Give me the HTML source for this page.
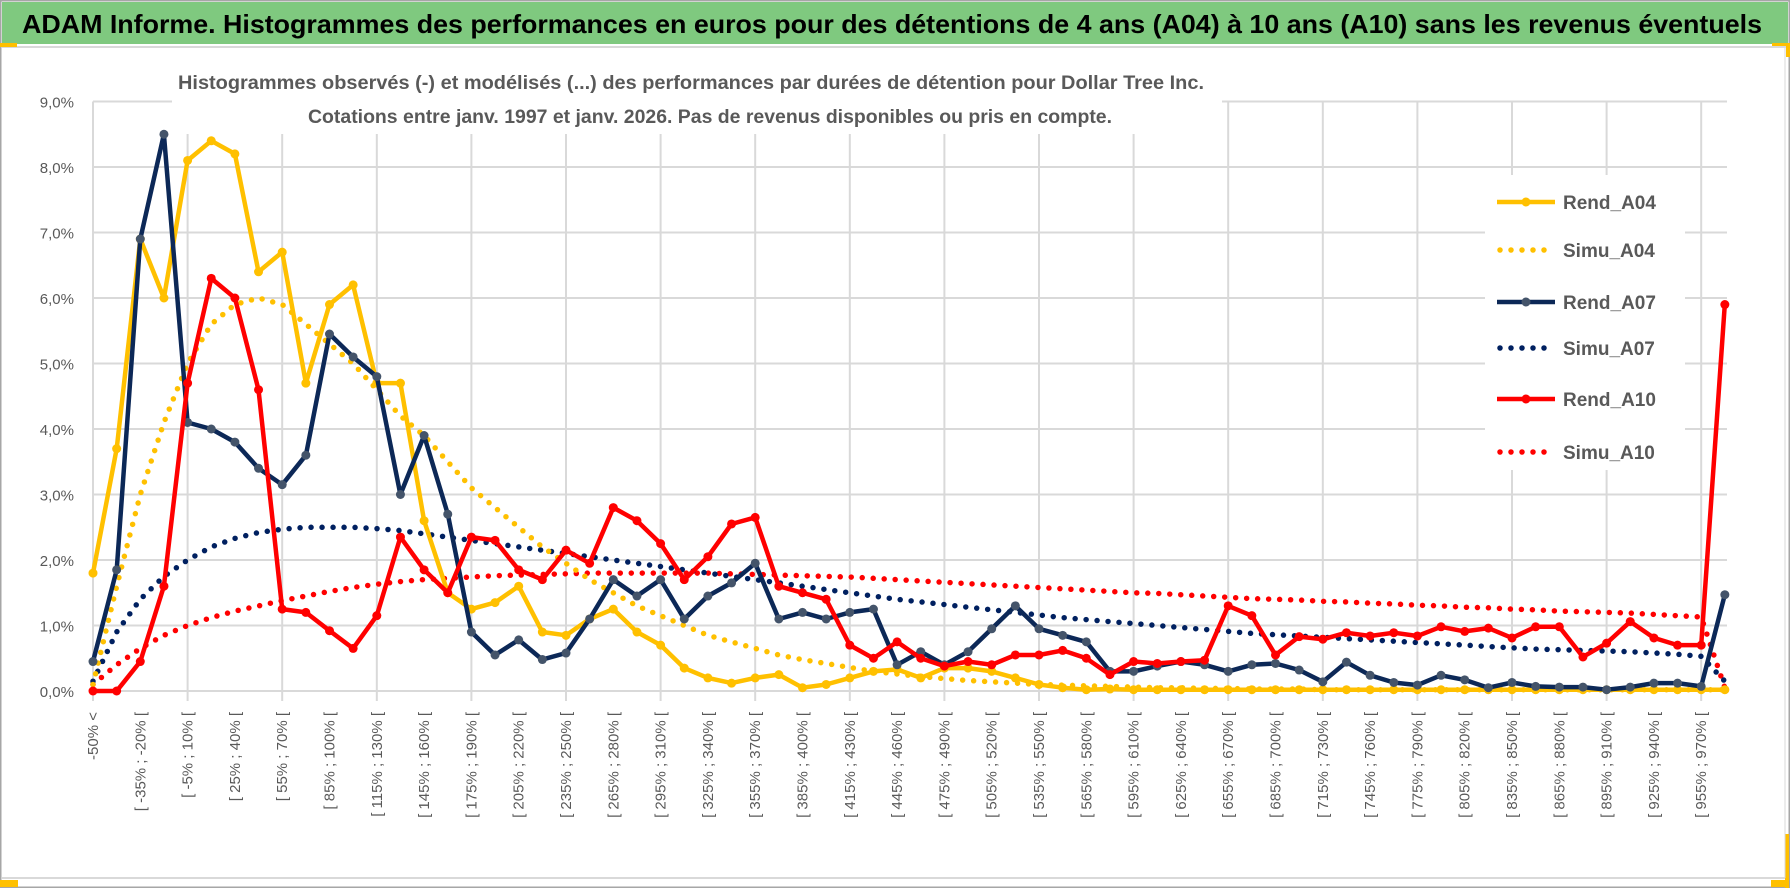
<!DOCTYPE html>
<html><head><meta charset="utf-8">
<style>
html,body{margin:0;padding:0;background:#fff;}
body{width:1790px;height:888px;overflow:hidden;position:relative;font-family:"Liberation Sans",sans-serif;}
svg{position:absolute;left:0;top:0;}
</style></head>
<body>
<svg id="chart" width="1790" height="888" viewBox="0 0 1790 888" xmlns="http://www.w3.org/2000/svg">
  <rect x="0.5" y="0.5" width="1789" height="887" fill="#fff" stroke="#a6a6a6" stroke-width="2"/>
  <rect x="2" y="2" width="1786" height="42" fill="#7fc97f"/>
  <text x="22" y="33" font-size="26" font-weight="bold" fill="#000" textLength="1740" lengthAdjust="spacingAndGlyphs">ADAM Informe. Histogrammes des performances en euros pour des détentions de 4 ans (A04) à 10 ans (A10) sans les revenus éventuels</text>
  <line x1="2" y1="47" x2="1786" y2="47" stroke="#d9d9d9" stroke-width="2"/>
  <rect x="0" y="43" width="17" height="4" fill="#ffc000"/>
  <rect x="1772" y="43" width="18" height="3" fill="#ffc000"/>
  <rect x="1786" y="43" width="4" height="14" fill="#ffc000"/>
  <line x1="2" y1="878" x2="1786" y2="878" stroke="#d9d9d9" stroke-width="2"/>
  <rect x="0" y="880" width="18" height="7" fill="#ffc000"/>
  <rect x="1785" y="834" width="4" height="54" fill="#ffc000"/>
  <rect x="1771" y="880" width="18" height="7" fill="#ffc000"/>
  <line x1="1785" y1="48" x2="1785" y2="878" stroke="#d9d9d9" stroke-width="1"/>
  <g id="grid"></g>
  <g id="yaxis"></g>
  <g id="xaxis"></g>
  <g id="series"></g>
  <rect x="172" y="60" width="1050" height="74" fill="#fff"/>
  <text x="178" y="89" font-size="19" font-weight="bold" fill="#595959" textLength="1026" lengthAdjust="spacingAndGlyphs">Histogrammes observés (-) et modélisés (...) des performances par durées de détention pour Dollar Tree Inc.</text>
  <text x="308" y="123" font-size="19" font-weight="bold" fill="#595959" textLength="804" lengthAdjust="spacingAndGlyphs">Cotations entre janv. 1997 et janv. 2026. Pas de revenus disponibles ou pris en compte.</text>
  <g id="legend"></g>
</svg>
<script>
const categories = (function(){ const a=["-50% <"]; for(let k=1;k<=68;k++){const s=-50+15*(k-1); a.push("[ "+s+"% ; "+(s+15)+"% [");} a.push("> 970%"); return a; })();
const yTicks = [0,1,2,3,4,5,6,7,8,9];
const yTickLabels = ["0,0%","1,0%","2,0%","3,0%","4,0%","5,0%","6,0%","7,0%","8,0%","9,0%"];
const rendA04 = [1.8,3.7,6.9,6.0,8.1,8.4,8.2,6.4,6.7,4.7,5.9,6.2,4.7,4.7,2.6,1.5,1.25,1.35,1.6,0.9,0.85,1.1,1.25,0.9,0.7,0.35,0.2,0.12,0.2,0.25,0.05,0.1,0.2,0.3,0.33,0.2,0.35,0.35,0.3,0.2,0.1,0.05,0.02,0.03,0.02,0.02,0.02,0.02,0.02,0.02,0.02,0.02,0.02,0.02,0.02,0.02,0.02,0.02,0.02,0.02,0.02,0.02,0.02,0.02,0.02,0.02,0.02,0.02,0.02,0.02];
const simuA04 = [0.1,1.6,3.0,4.1,5.0,5.6,5.9,6.0,5.9,5.6,5.3,5.0,4.6,4.2,3.9,3.5,3.1,2.8,2.5,2.2,1.95,1.7,1.5,1.3,1.15,1.0,0.85,0.75,0.65,0.55,0.48,0.42,0.36,0.3,0.26,0.22,0.19,0.16,0.14,0.12,0.1,0.09,0.08,0.07,0.06,0.05,0.05,0.04,0.04,0.03,0.03,0.03,0.02,0.02,0.02,0.02,0.02,0.02,0.02,0.02,0.02,0.02,0.02,0.02,0.02,0.02,0.02,0.02,0.02,0.02];
const rendA07 = [0.45,1.85,6.9,8.5,4.1,4.0,3.8,3.4,3.15,3.6,5.45,5.1,4.8,3.0,3.9,2.7,0.9,0.55,0.78,0.48,0.58,1.1,1.7,1.45,1.7,1.1,1.45,1.65,1.95,1.1,1.2,1.1,1.2,1.25,0.4,0.6,0.4,0.6,0.95,1.3,0.95,0.85,0.75,0.3,0.3,0.38,0.45,0.4,0.3,0.4,0.42,0.32,0.14,0.44,0.24,0.13,0.09,0.24,0.17,0.05,0.13,0.07,0.06,0.06,0.02,0.06,0.12,0.12,0.07,1.47];
const simuA07 = [0.15,0.9,1.4,1.75,2.0,2.2,2.33,2.42,2.47,2.5,2.5,2.5,2.48,2.45,2.4,2.35,2.3,2.25,2.2,2.15,2.1,2.05,2.0,1.95,1.9,1.85,1.8,1.75,1.7,1.65,1.6,1.55,1.5,1.45,1.4,1.36,1.32,1.28,1.24,1.2,1.16,1.12,1.09,1.06,1.03,1.0,0.97,0.94,0.91,0.88,0.86,0.84,0.82,0.8,0.78,0.76,0.74,0.72,0.7,0.68,0.66,0.64,0.63,0.62,0.61,0.6,0.58,0.56,0.53,0.15];
const rendA10 = [0,0,0.45,1.6,4.7,6.3,6.0,4.6,1.25,1.2,0.92,0.65,1.15,2.35,1.85,1.5,2.35,2.3,1.85,1.7,2.15,1.95,2.8,2.6,2.25,1.7,2.05,2.55,2.65,1.6,1.5,1.4,0.7,0.5,0.75,0.5,0.38,0.45,0.4,0.55,0.55,0.62,0.5,0.25,0.45,0.42,0.45,0.47,1.3,1.15,0.55,0.83,0.79,0.89,0.84,0.89,0.84,0.98,0.91,0.96,0.81,0.98,0.98,0.52,0.73,1.06,0.81,0.7,0.7,5.9];
const simuA10 = [0.1,0.4,0.65,0.85,1.0,1.12,1.22,1.3,1.38,1.45,1.52,1.58,1.63,1.67,1.7,1.72,1.74,1.76,1.77,1.78,1.79,1.8,1.8,1.8,1.8,1.8,1.8,1.79,1.78,1.77,1.76,1.75,1.74,1.72,1.7,1.68,1.66,1.64,1.62,1.6,1.58,1.56,1.54,1.52,1.5,1.49,1.47,1.45,1.43,1.41,1.4,1.39,1.37,1.36,1.34,1.33,1.31,1.3,1.28,1.27,1.25,1.24,1.22,1.21,1.2,1.19,1.17,1.15,1.13,0.05];

const NS="http://www.w3.org/2000/svg";
const X0=93, STEP=23.65, Y0=691, YPER=65.5;
function xs(i){return X0+i*STEP;}
function ys(v){return Y0-v*YPER;}
function mk(tag,attrs,parent){const e=document.createElementNS(NS,tag);for(const k in attrs)e.setAttribute(k,attrs[k]);parent.appendChild(e);return e;}

const grid=document.getElementById('grid'), yaxis=document.getElementById('yaxis'), xaxis=document.getElementById('xaxis');
const plotRight=1727;
yTicks.forEach((t,i)=>{
  const l=mk('line',{x1:X0,x2:plotRight,y1:ys(t),y2:ys(t),stroke:'#d9d9d9','stroke-width':2},grid);
  
  
  const tx=mk('text',{x:74,y:ys(t)+6,'text-anchor':'end','font-size':15,fill:'#595959'},yaxis);
  tx.textContent=yTickLabels[i];
  
  
});
for(let i=0;i<categories.length;i+=4){
  const l=mk('line',{x1:xs(i),x2:xs(i),y1:ys(9),y2:Y0+10,stroke:'#d9d9d9','stroke-width':2},grid);
  
  
}
for(let i=0;i<categories.length-1;i+=2){
  const x=xs(i)+5, y=712;
  const tx=mk('text',{x:x,y:y,'text-anchor':'end','font-size':15,fill:'#595959',transform:'rotate(-90 '+x+' '+y+')'},xaxis);
  tx.textContent=categories[i];
  
  
}

const seriesLayer=document.getElementById('series');
function drawDotted(vals,color,name){
  const d=vals.map((v,i)=>(i?'L':'M')+xs(i).toFixed(1)+' '+ys(v).toFixed(1)).join(' ');
  const p=mk('path',{d:d,fill:'none',stroke:color,'stroke-width':5.5,'stroke-linecap':'round','stroke-dasharray':'0 11'},seriesLayer);
  
  
}
function drawSolid(vals,color,mcolor,name){
  const d=vals.map((v,i)=>(i?'L':'M')+xs(i).toFixed(1)+' '+ys(v).toFixed(1)).join(' ');
  const p=mk('path',{d:d,fill:'none',stroke:color,'stroke-width':4.5,'stroke-linejoin':'round'},seriesLayer);
  
  
  vals.forEach((v,i)=>{
    const c=mk('circle',{cx:xs(i),cy:ys(v),r:4.5,fill:mcolor},seriesLayer);
    
    
  });
}
drawDotted(simuA10,'#ff0000','simu-a10');
drawDotted(simuA07,'#002060','simu-a07');
drawDotted(simuA04,'#ffc000','simu-a04');
drawSolid(rendA04,'#ffc000','#ffc000','rend-a04');
drawSolid(rendA07,'#0c2857','#44546a','rend-a07');
drawSolid(rendA10,'#ff0000','#ff0000','rend-a10');

const legend=document.getElementById('legend');
mk('rect',{x:1485,y:175,width:200,height:295,fill:'#fff'},legend);
const legItems=[["Rend_A04",'#ffc000',false],["Simu_A04",'#ffc000',true],["Rend_A07",'#0c2857',false],["Simu_A07",'#002060',true],["Rend_A10",'#ff0000',false],["Simu_A10",'#ff0000',true]];
const legY=[202,250,302,348,399,452];
legItems.forEach((it,i)=>{
  const y=legY[i];
  const g=mk('g',{},legend);
  
  
  if(it[2]) mk('line',{x1:1500,x2:1552,y1:y,y2:y,stroke:it[1],'stroke-width':5.5,'stroke-linecap':'round','stroke-dasharray':'0 11'},g);
  else { mk('line',{x1:1497,x2:1555,y1:y,y2:y,stroke:it[1],'stroke-width':4.5},g); mk('circle',{cx:1526,cy:y,r:4.5,fill:it[1]==='#0c2857'?'#44546a':it[1]},g); }
  const t=mk('text',{x:1563,y:y+7,'font-size':19,'font-weight':'bold',fill:'#595959'},g);
  t.textContent=it[0];
});
</script>
</body></html>
